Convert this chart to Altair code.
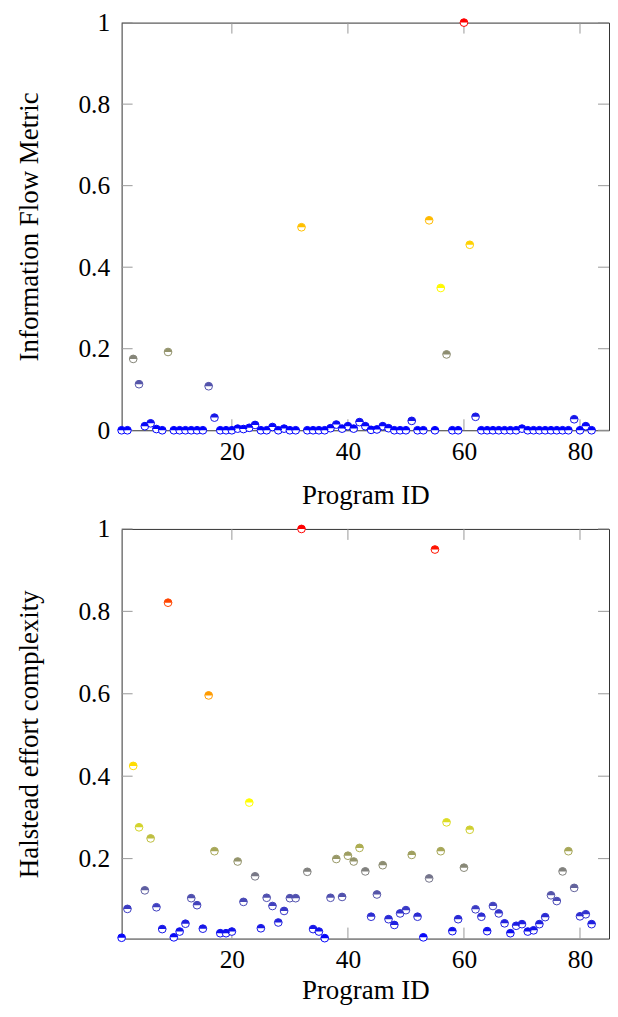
import altair as alt
import pandas as pd

program_id = list(range(1, 83))

info_flow = [
    0, 0, 0.175, 0.113, 0.01, 0.017, 0.003, 0, 0.192, 0,
    0, 0, 0, 0, 0, 0.108, 0.031, 0, 0, 0,
    0.004, 0.003, 0.006, 0.013, 0, 0, 0.008, 0, 0.004, 0,
    0, 0.498, 0, 0, 0, 0, 0.005, 0.014, 0.004, 0.01,
    0.004, 0.02, 0.01, 0.001, 0.002, 0.01, 0.005, 0, 0, 0,
    0.023, 0, 0, 0.515, 0, 0.349, 0.186, 0, 0, 1.0,
    0.455, 0.033, 0, 0, 0, 0, 0, 0, 0, 0.004,
    0, 0, 0, 0, 0, 0, 0, 0, 0.027, 0,
    0.01, 0,
]

halstead = [
    0.008, 0.078, 0.425, 0.276, 0.123, 0.249, 0.082, 0.029, 0.821, 0.009,
    0.023, 0.042, 0.104, 0.087, 0.030, 0.596, 0.218, 0.019, 0.019, 0.023,
    0.193, 0.095, 0.336, 0.157, 0.031, 0.105, 0.085, 0.045, 0.073, 0.104,
    0.104, 1.0, 0.168, 0.029, 0.023, 0.007, 0.105, 0.199, 0.107, 0.207,
    0.193, 0.226, 0.169, 0.059, 0.113, 0.184, 0.053, 0.039, 0.067, 0.075,
    0.209, 0.059, 0.009, 0.152, 0.950, 0.218, 0.288, 0.024, 0.053, 0.178,
    0.270, 0.077, 0.059, 0.024, 0.085, 0.067, 0.043, 0.019, 0.037, 0.041,
    0.023, 0.026, 0.041, 0.058, 0.111, 0.097, 0.169, 0.218, 0.129, 0.060,
    0.065, 0.041,
]

x_ticks = [20, 40, 60, 80]
y_ticks_top = [0, 0.2, 0.4, 0.6, 0.8, 1]
y_ticks_bottom = [0.2, 0.4, 0.6, 0.8, 1]
x_domain = [1, 85]
colormap = ["#0000ff", "#ffff00", "#ff8000", "#ff0000"]

W = 489
FONT = "Liberation Serif, Times New Roman, serif"
LFS = 25.5
TFS = 27
TICK = 11
SIZE = 60
HALF = "M -1 0 A 1 1 0 0 1 1 0 Z"
TICK_COLOR = "#999999"


def panel(values, ytitle, yticks, ymin, xtitle_pad, H):
    df = pd.DataFrame({"pid": program_id, "v": values})
    xs = alt.Scale(domain=x_domain, nice=False, zero=False)
    ys = alt.Scale(domain=[ymin, 1], nice=False, zero=False)
    span = 1 - ymin
    cs = alt.Scale(domain=[ymin + span * i / 3 for i in range(4)],
                   range=colormap, interpolate="rgb")
    x_axis = alt.Axis(values=x_ticks, format="d", title="Program ID",
                      labelPadding=9, titlePadding=xtitle_pad)
    y_axis = alt.Axis(values=yticks, format=".1~f", title=ytitle,
                      labelPadding=12, titlePadding=35)

    base = alt.Chart(df).encode(
        x=alt.X("pid:Q", scale=xs, axis=x_axis),
        y=alt.Y("v:Q", scale=ys, axis=y_axis),
    )
    ring = base.mark_point(shape="circle", size=SIZE, fill="white",
                           filled=False, strokeWidth=1, opacity=1,
                           fillOpacity=1).encode(
        stroke=alt.Stroke("v:Q", scale=cs, legend=None))
    half = base.mark_point(shape=HALF, size=SIZE, filled=True,
                           strokeWidth=0, opacity=1).encode(
        fill=alt.Fill("v:Q", scale=cs, legend=None))

    xt = alt.Chart(pd.DataFrame({"t": x_ticks}))
    yt = alt.Chart(pd.DataFrame({"t": yticks}))
    rs = dict(color=TICK_COLOR, strokeWidth=1)
    xb = xt.mark_rule(**rs).encode(
        x=alt.X("t:Q", scale=xs, axis=x_axis),
        y=alt.value(H), y2=alt.value(H - TICK))
    xtop = xt.mark_rule(**rs).encode(
        x=alt.X("t:Q", scale=xs, axis=x_axis),
        y=alt.value(0), y2=alt.value(TICK))
    yl = yt.mark_rule(**rs).encode(
        y=alt.Y("t:Q", scale=ys, axis=y_axis),
        x=alt.value(0), x2=alt.value(TICK))
    yr = yt.mark_rule(**rs).encode(
        y=alt.Y("t:Q", scale=ys, axis=y_axis),
        x=alt.value(W), x2=alt.value(W - TICK))

    return alt.layer(xb, xtop, yl, yr, ring, half).properties(width=W, height=H)


top = panel(info_flow, "Information Flow Metric", y_ticks_top, 0, 18, 409)
bottom = panel(halstead, "Halstead effort complexity", y_ticks_bottom,
               min(halstead) - 0.001, 5, 411)

chart = alt.vconcat(top, bottom, spacing=99, bounds="flush").configure(
    padding={"left": 6, "top": 0, "right": 0, "bottom": 0},
    background="white",
).configure_view(
    stroke="#333333", strokeWidth=1,
).configure_axis(
    labelFont=FONT, labelFontSize=LFS, titleFont=FONT, titleFontSize=TFS,
    titleFontWeight="normal", labelColor="black", titleColor="black",
    domain=False, ticks=False, tickSize=0, grid=False,
)

chart.save("out.html", embed_options={"renderer": "svg", "actions": False})
